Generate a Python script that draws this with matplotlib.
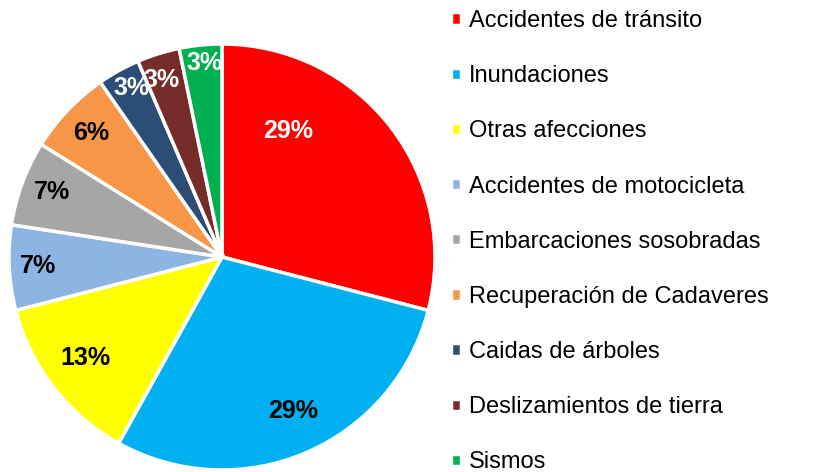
import matplotlib.pyplot as plt

plt.rcParams["font.family"] = ["Liberation Sans", "DejaVu Sans"]

# Data
categories = [
    "Accidentes de tránsito",
    "Inundaciones",
    "Otras afecciones",
    "Accidentes de motocicleta",
    "Embarcaciones sosobradas",
    "Recuperación de Cadaveres",
    "Caidas de árboles",
    "Deslizamientos de tierra",
    "Sismos",
]
counts = [9, 9, 4, 2, 2, 2, 1, 1, 1]
pct_labels = ["29%", "29%", "13%", "7%", "7%", "6%", "3%", "3%", "3%"]
colors = [
    "#FF0000", "#00B0F0", "#FFFF00", "#8EB4E3", "#A6A6A6",
    "#F79646", "#2C4D75", "#772C2A", "#00B050",
]
label_colors = ["white", "black", "black", "black", "black",
                "black", "white", "white", "white"]
# label positions (in pie radius units)
label_pos = [
    (0.31, 0.59), (0.333, -0.723), (-0.643, -0.474), (-0.864, -0.042),
    (-0.798, 0.305), (-0.615, 0.582), (-0.427, 0.793), (-0.282, 0.831),
    (-0.08, 0.91),
]

fig = plt.figure(figsize=(8.19, 4.72), dpi=100)
ax = fig.add_axes([9 / 819, 2 / 472, 426 / 819, 426 / 472])

wedges, _ = ax.pie(
    counts,
    colors=colors,
    startangle=90,
    counterclock=False,
    radius=1.0,
    wedgeprops=dict(edgecolor="white", linewidth=2.5),
)
ax.set_xlim(-1.0, 1.0)
ax.set_ylim(-1.0, 1.0)
ax.set_aspect("equal")
ax.axis("off")

for lbl, (x, y), c in zip(pct_labels, label_pos, label_colors):
    ax.text(x, y, lbl, ha="center", va="center", fontsize=18,
            fontweight="bold", color=c)

fig.legend(
    wedges,
    categories,
    loc="upper left",
    bbox_to_anchor=(451 / 819, 1 - 10 / 472),
    frameon=False,
    fontsize=17,
    handlelength=0.42,
    handleheight=0.42,
    handletextpad=0.34,
    labelspacing=1.405,
    borderpad=0,
    borderaxespad=0,
)

fig.savefig("out.png", dpi=100)
